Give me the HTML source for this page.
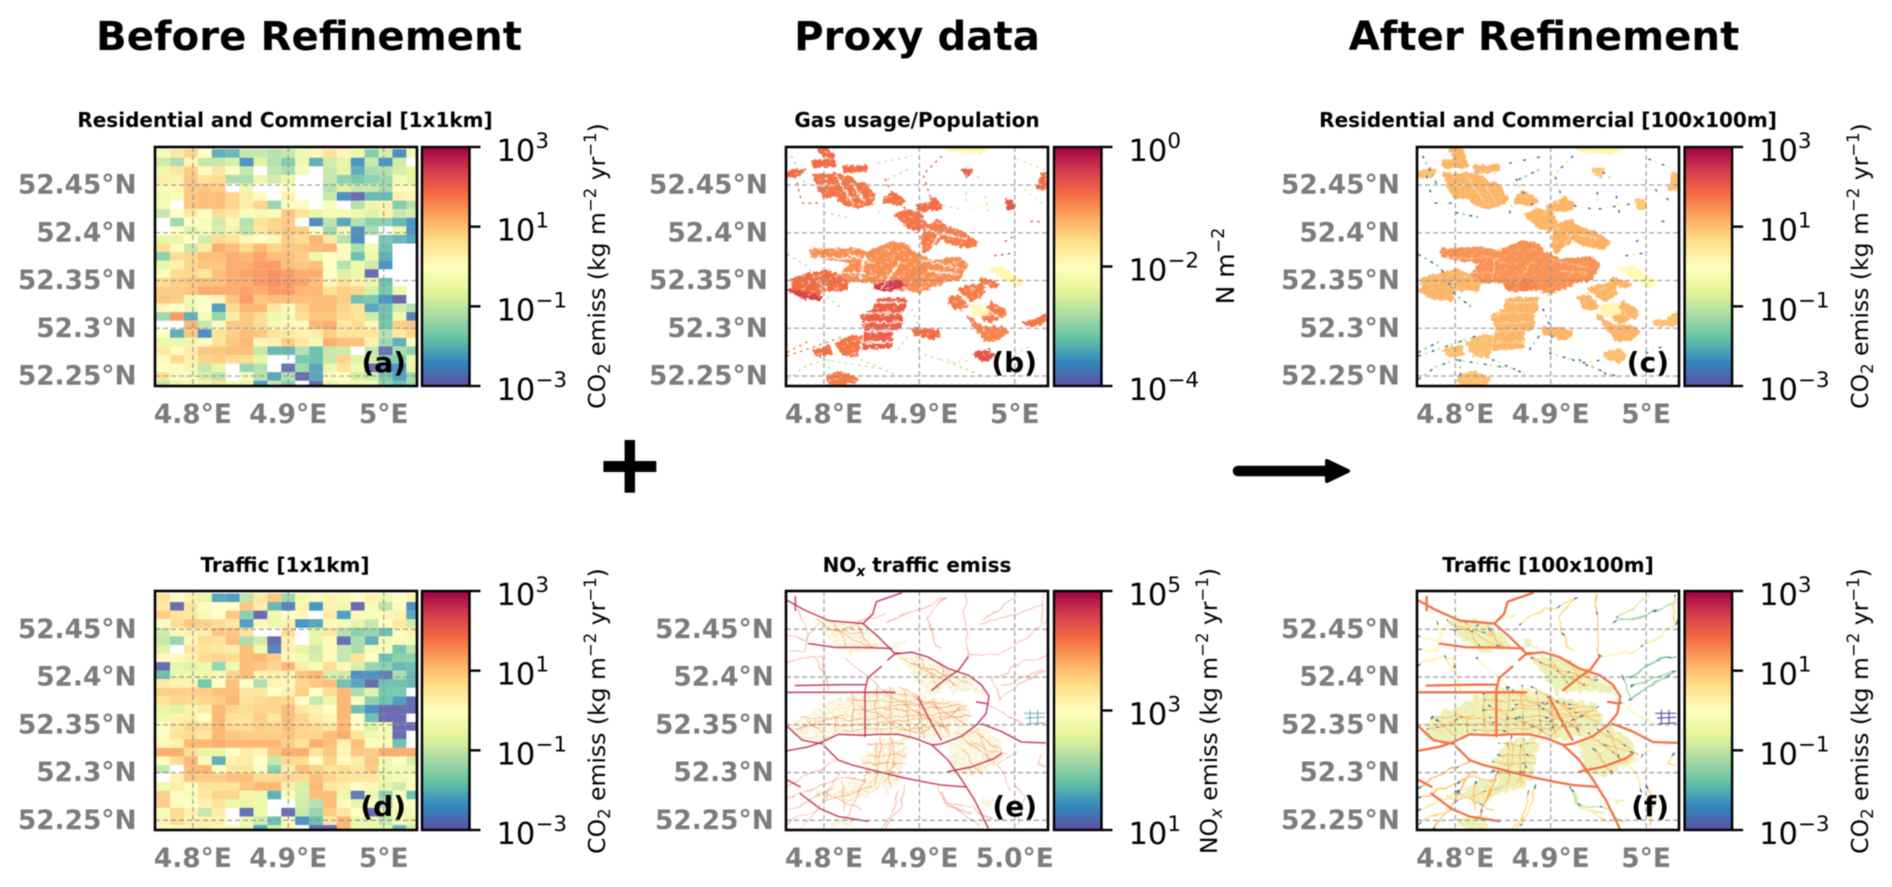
<!DOCTYPE html>
<html lang="en">
<head>
<meta charset="utf-8">
<title>CO2 emission refinement maps</title>
<style>
html,body{margin:0;padding:0;background:#fff;}
#figure{display:block;width:1892px;height:887px;filter:blur(0.45px);font-family:"DejaVu Sans","Liberation Sans",sans-serif;}
.sup{font-weight:700;font-size:40.3px;fill:#000;text-anchor:middle;}
.ttl{font-weight:700;font-size:20px;fill:#000;text-anchor:middle;}
.cbl{font-size:23.5px;fill:#000;text-anchor:middle;}
.let{font-weight:700;font-size:28px;fill:#000;text-anchor:end;}
</style>
</head>
<body>
<svg id="figure" xmlns="http://www.w3.org/2000/svg" width="1892" height="887" viewBox="0 0 1892 887">
  <defs id="defs">
    <filter id="roughEdge" x="-5%" y="-5%" width="110%" height="110%">
      <feTurbulence type="fractalNoise" baseFrequency="0.28" numOctaves="2" seed="4" result="noise"/>
      <feDisplacementMap in="SourceGraphic" in2="noise" scale="6" xChannelSelector="R" yChannelSelector="G"/>
    </filter>
    <filter id="softZone" x="-5%" y="-5%" width="110%" height="110%">
      <feTurbulence type="fractalNoise" baseFrequency="0.12" numOctaves="3" seed="9" result="noise"/>
      <feDisplacementMap in="SourceGraphic" in2="noise" scale="14" xChannelSelector="R" yChannelSelector="G"/>
    </filter>
    <filter id="wiggle" x="-5%" y="-5%" width="110%" height="110%">
      <feTurbulence type="fractalNoise" baseFrequency="0.07" numOctaves="2" seed="2" result="noise"/>
      <feDisplacementMap in="SourceGraphic" in2="noise" scale="7" xChannelSelector="R" yChannelSelector="G"/>
    </filter>
  </defs>
  <rect x="0" y="0" width="1892" height="887" fill="#fff"/>
  <g id="panels"></g>

  <text class="sup" x="309" y="50">Before Refinement</text>
  <text class="sup" x="917" y="50">Proxy data</text>
  <text class="sup" x="1544" y="50">After Refinement</text>

  <text class="ttl" x="285" y="127">Residential and Commercial [1x1km]</text>
  <text class="ttl" x="917" y="127">Gas usage/Population</text>
  <text class="ttl" x="1548" y="127">Residential and Commercial [100x100m]</text>
  <text class="ttl" x="285" y="572">Traffic [1x1km]</text>
  <text class="ttl" x="917" y="572">NO<tspan dy="4" font-size="14" font-style="italic">x</tspan><tspan dy="-4"> traffic emiss</tspan></text>
  <text class="ttl" x="1548" y="572">Traffic [100x100m]</text>

  <text class="let" x="406" y="372">(a)</text>
  <text class="let" x="1037" y="372">(b)</text>
  <text class="let" x="1669" y="372">(c)</text>
  <text class="let" x="406" y="816">(d)</text>
  <text class="let" x="1037" y="816">(e)</text>
  <text class="let" x="1669" y="816">(f)</text>

  <text class="cbl" transform="translate(605,266) rotate(-90)">CO<tspan dy="5" font-size="16.5">2</tspan><tspan dy="-5"> emiss (kg m</tspan><tspan dy="-9" font-size="16.5">−2</tspan><tspan dy="9"> yr</tspan><tspan dy="-9" font-size="16.5">−1</tspan><tspan dy="9">)</tspan></text>
  <text class="cbl" style="font-size:25px" transform="translate(1234,266) rotate(-90)">N m<tspan dy="-10" font-size="17.5">−2</tspan></text>
  <text class="cbl" transform="translate(1868,266) rotate(-90)">CO<tspan dy="5" font-size="16.5">2</tspan><tspan dy="-5"> emiss (kg m</tspan><tspan dy="-9" font-size="16.5">−2</tspan><tspan dy="9"> yr</tspan><tspan dy="-9" font-size="16.5">−1</tspan><tspan dy="9">)</tspan></text>
  <text class="cbl" transform="translate(605,711) rotate(-90)">CO<tspan dy="5" font-size="16.5">2</tspan><tspan dy="-5"> emiss (kg m</tspan><tspan dy="-9" font-size="16.5">−2</tspan><tspan dy="9"> yr</tspan><tspan dy="-9" font-size="16.5">−1</tspan><tspan dy="9">)</tspan></text>
  <text class="cbl" transform="translate(1217,711) rotate(-90)">NO<tspan dy="5" font-size="16.5" font-style="italic">x</tspan><tspan dy="-5"> emiss (kg m</tspan><tspan dy="-9" font-size="16.5">−2</tspan><tspan dy="9"> yr</tspan><tspan dy="-9" font-size="16.5">−1</tspan><tspan dy="9">)</tspan></text>
  <text class="cbl" transform="translate(1868,711) rotate(-90)">CO<tspan dy="5" font-size="16.5">2</tspan><tspan dy="-5"> emiss (kg m</tspan><tspan dy="-9" font-size="16.5">−2</tspan><tspan dy="9"> yr</tspan><tspan dy="-9" font-size="16.5">−1</tspan><tspan dy="9">)</tspan></text>

  <g>
    <rect x="624.6" y="440" width="10.4" height="52.7" fill="#000"/>
    <rect x="603.4" y="461" width="52.9" height="11" fill="#000"/>
  </g>
  <g>
    <line x1="1238" y1="471" x2="1334" y2="471" stroke="#000" stroke-width="10.5" stroke-linecap="round"/>
    <path d="M1327 461 L1348 471 L1327 481 Z" fill="#000" stroke="#000" stroke-width="4" stroke-linejoin="round"/>
  </g>
</svg>

<script>
/* ---------- chart data ---------- */
const latTicks = [52.45, 52.4, 52.35, 52.3, 52.25];
const latLabels = ["52.45°N", "52.4°N", "52.35°N", "52.3°N", "52.25°N"];
const lonTicks = [4.8, 4.9, 5.0];
const lonLabels = ["4.8°E", "4.9°E", "5°E"];
const lonLabelsE = ["4.8°E", "4.9°E", "5.0°E"];

const co2Exponents = [3, 1, -1, -3];
const gasExponents = [0, -2, -4];
const noxExponents = [5, 3, 1];

/* log10 of residential + commercial CO2 emission, 1 km cells, north to south */
const residentialGrid = [
[-0.3,0.5,0.8,0.0,-2.1,-2.0,-1.0,-1.0,-1.2,-1.0,-0.4,0.2,0.6,0.2,-0.5,-1.7,-0.8,-2.5,-0.3],
[-0.9,-1.3,0.2,-1.0,-1.0,-0.8,-2.4,-0.7,-1.2,-1.7,-0.4,-2.1,-0.9,-0.6,-2.4,-1.0,-2.4,-0.9,null],
[-0.5,0.5,0.9,0.1,0.5,-0.1,-1.0,null,-1.1,-1.3,-0.3,null,-1.0,-0.6,-2.1,-1.3,-1.2,-0.8,-0.6],
[0.4,0.3,1.0,0.6,0.7,-1.3,-1.3,-0.5,-0.9,-0.5,null,null,-1.0,-1.6,-1.8,-1.6,-1.4,-0.3,-0.6],
[-0.2,0.2,1.0,1.0,0.9,null,-0.5,null,null,0.0,null,null,-1.2,-0.7,-1.0,-1.0,-1.3,0.1,0.1],
[-0.4,-0.2,1.0,1.1,1.1,0.8,0.4,0.1,null,0.3,null,null,-1.0,-2.5,-2.9,-2.0,-2.0,0.3,0.2],
[-0.3,null,1.0,1.1,1.1,0.8,0.4,0.8,-1.5,0.1,-0.1,null,-0.2,null,-1.2,-0.5,0.3,-1.7,-1.2],
[-1.0,0.0,0.5,0.0,0.7,0.5,-0.2,-0.3,0.1,1.0,0.6,-0.6,-0.3,-0.3,-0.5,-0.7,0.3,-1.0,-0.8],
[null,-1.4,0.0,-0.2,-0.9,0.2,-1.2,0.6,0.8,0.9,null,-2.5,-1.1,-2.2,-1.2,-1.6,-1.6,-2.0,-2.4],
[null,0.0,-0.7,-0.2,-0.8,-0.5,-1.1,0.5,0.8,1.0,0.9,0.0,-1.4,-0.3,-2.5,-1.3,null,-0.5,-2.4],
[-0.6,-0.6,0.0,-0.9,0.7,0.6,0.2,0.0,-0.2,0.9,0.7,1.2,0.5,-1.2,-2.5,null,-1.8,-2.0,-2.2],
[0.7,0.1,-1.0,0.4,1.3,1.1,0.7,1.2,0.8,1.0,1.0,1.1,1.2,0.1,-1.3,-0.3,-1.9,null,null],
[-1.6,0.7,0.8,1.1,1.1,1.3,1.2,1.4,1.1,1.1,0.9,-0.5,0.0,-0.2,-1.9,-0.5,-2.1,null,null],
[-0.6,0.3,0.8,1.0,1.0,1.3,1.3,1.5,1.5,1.1,1.0,1.1,0.0,-1.2,-0.5,-0.9,-2.4,null,null],
[-0.2,0.7,0.8,0.5,1.1,1.3,1.4,1.5,1.6,1.5,1.3,1.3,0.0,-0.7,-0.5,-2.9,null,null,null],
[0.7,0.9,1.0,1.1,1.1,1.3,1.3,1.5,1.6,1.5,1.4,1.1,0.2,0.6,0.3,-0.5,-1.9,null,null],
[0.9,0.9,1.0,1.3,1.3,1.3,1.4,1.3,1.5,1.5,1.2,1.2,0.6,0.9,0.8,-0.8,-1.8,-0.5,null],
[1.0,0.9,-0.3,-0.1,0.2,1.0,1.5,1.0,1.1,1.1,1.1,1.1,1.1,0.9,-1.9,-1.8,-2.4,-2.9,null],
[0.2,0.0,-0.4,0.0,-2.3,0.7,1.2,1.2,0.5,0.2,0.8,1.1,1.1,0.8,0.6,-2.2,-1.9,-0.9,-1.2],
[-1.4,1.5,-2.1,-0.3,-1.5,0.4,1.0,0.7,-0.4,-0.3,0.7,1.0,1.0,0.7,0.6,-0.9,-1.9,-0.5,-2.7],
[null,null,1.2,-1.0,0.1,1.0,1.0,0.7,-0.3,0.2,0.1,1.2,1.3,0.5,0.7,0.2,-1.8,0.9,1.0],
[0.0,-2.1,1.0,-2.5,0.6,0.9,1.1,1.0,0.6,0.5,0.3,0.4,0.9,0.6,0.6,0.6,-1.2,0.5,0.8],
[-0.5,-0.5,-0.4,0.1,0.6,1.0,1.2,0.2,0.3,0.9,0.5,-0.3,1.3,1.1,1.1,0.3,-1.4,-2.1,-0.1],
[0.5,0.1,0.4,1.0,1.0,1.1,1.1,-1.0,-2.0,-2.0,-1.2,-1.9,-1.0,-0.9,null,-1.0,-2.8,-1.3,-1.6],
[0.1,0.7,0.3,0.8,0.9,0.7,0.7,-0.6,null,null,-1.8,-1.9,-1.0,0.8,-0.7,-0.9,-1.7,-1.7,-0.5],
[0.0,-0.1,-0.4,-1.0,-0.6,null,-1.5,-1.2,null,-2.8,-1.4,-2.2,-0.5,0.6,-0.4,-2.9,-2.8,-2.4,-0.6],
[0.6,-0.1,-0.2,-0.8,-1.1,null,-0.2,-1.2,-2.2,-1.2,-2.9,-2.2,0.1,0.0,-0.8,-0.9,-1.8,-2.3,-1.4],
[-1.0,-0.5,-0.3,0.3,0.6,-0.3,-0.5,-2.3,-1.0,-1.6,null,-2.9,-0.5,-0.2,-0.3,-0.3,-1.6,-1.9,-1.4]
];

/* log10 of traffic CO2 emission, 1 km cells, north to south */
const trafficGrid = [
[0.6,-0.1,0.3,-0.6,-2.2,-2.3,-1.1,0.5,1.0,-1.4,-0.4,-0.2,0.3,-0.3,0.0,0.3,-0.4,0.0,0.3],
[0.5,-2.9,0.5,0.1,0.0,0.0,1.0,0.4,-2.0,-2.6,0.3,-2.4,0.3,-0.4,-2.9,-0.2,-1.1,0.1,-2.5],
[0.9,0.6,0.5,-0.3,0.0,1.0,-1.6,-2.9,-0.5,0.0,0.1,null,0.4,-2.3,0.2,-0.2,0.2,0.3,-2.2],
[-0.1,0.7,1.0,0.9,0.7,0.5,-2.3,0.2,-0.5,0.3,-2.4,-2.2,-0.2,-0.3,-0.6,-1.0,0.0,0.5,-0.9],
[-0.9,0.2,0.3,0.4,1.0,1.0,0.6,null,null,0.7,null,-0.6,0.5,-1.2,-1.6,-1.5,-1.9,0.1,0.3],
[-1.0,-1.5,0.2,0.7,0.6,1.1,-1.3,-0.9,-2.9,0.3,null,-0.6,0.1,-2.8,-1.3,-2.1,-0.2,-0.2,-0.2],
[-0.7,null,0.5,0.6,0.5,0.4,1.1,-0.4,-2.6,0.3,-0.6,-0.9,0.1,-1.0,-1.3,-0.3,-0.2,-1.8,-1.1],
[0.1,0.1,0.3,0.7,0.8,0.7,1.1,1.2,0.9,0.2,-0.3,-0.8,0.1,-1.0,0.6,0.0,-1.9,-1.6,-1.6],
[-2.9,-0.6,-0.7,-0.5,-1.5,-0.4,1.1,1.0,0.8,1.2,0.4,-0.2,0.7,0.2,-0.8,-1.5,-1.6,-2.0,-1.9],
[-1.9,-0.5,-0.4,-0.5,-0.3,0.8,1.1,0.3,0.4,0.3,1.0,1.2,-0.8,-0.9,-2.5,-2.4,-2.7,-1.3,-2.0],
[0.4,0.3,0.3,-1.8,0.0,1.1,0.0,-1.3,0.3,0.2,0.8,1.0,1.1,-1.9,-2.2,-2.9,-1.9,-1.9,-2.0],
[0.9,0.9,0.9,0.9,1.1,1.1,0.5,0.5,0.0,0.3,0.9,0.0,0.7,1.2,-1.3,-0.7,-1.8,-1.8,null],
[0.6,0.8,0.7,0.8,0.9,1.2,0.6,0.7,0.8,0.8,0.0,-1.0,-0.5,1.2,-0.2,-1.6,-1.9,-2.3,-2.9],
[-0.6,-0.7,0.3,0.4,1.2,0.8,0.7,0.8,0.8,1.1,0.5,0.3,0.0,1.2,-1.9,-2.5,-2.9,-2.9,-2.9],
[-0.4,0.3,0.4,0.0,1.2,0.6,0.6,0.9,0.5,1.1,0.8,0.4,0.2,1.2,0.0,-1.9,-2.9,-2.9,null],
[0.1,0.5,0.8,0.7,1.2,0.7,0.7,0.9,0.8,1.1,0.8,0.7,0.5,1.2,0.0,-0.7,-0.3,-2.9,-2.9],
[-0.1,0.6,0.7,0.5,1.2,1.0,0.9,0.9,0.9,1.0,0.8,0.8,1.1,1.3,0.6,-0.4,-0.3,-2.9,null],
[0.2,0.3,1.2,1.2,1.3,1.2,1.2,1.2,1.2,0.9,0.6,1.3,1.1,0.3,1.1,-0.1,0.1,-1.9,null],
[1.3,1.3,0.7,-0.6,-0.6,0.0,0.4,0.2,1.0,1.3,1.3,0.6,1.0,0.2,1.0,0.9,1.3,1.3,1.3],
[0.1,0.7,1.2,-0.2,-2.1,0.3,0.4,0.0,-1.0,0.7,0.7,0.0,0.8,0.1,0.4,1.0,-0.4,0.0,-0.8],
[-1.0,null,1.1,1.2,0.1,0.5,0.6,-0.1,-1.6,0.4,1.1,0.9,0.6,0.7,0.5,0.9,-0.4,-0.3,-0.4],
[null,0.3,1.0,0.9,0.9,1.1,1.1,0.7,0.7,0.8,0.7,1.1,0.8,0.6,0.6,0.5,-0.5,-0.3,-0.2],
[-0.4,0.4,0.1,0.6,0.6,0.6,1.0,1.2,1.2,0.4,-0.8,1.2,0.5,0.4,-0.1,0.2,-0.6,-0.9,0.1],
[0.9,-0.1,-0.2,0.5,0.8,0.8,0.3,-0.4,-2.1,0.1,-0.8,1.1,1.1,-0.5,-2.7,-0.5,-1.6,-0.2,-1.9],
[0.9,-0.1,0.0,0.3,0.6,-0.5,-0.6,-0.5,null,null,-0.9,-1.2,1.1,0.1,-0.6,-0.2,-1.3,-0.1,-0.1],
[-0.2,0.7,0.3,-1.0,0.4,null,-2.8,-0.4,null,-2.9,-1.0,-1.5,0.9,0.5,0.0,-2.9,-0.3,-0.4,-0.2],
[0.2,0.7,0.3,0.3,0.3,null,-0.4,-0.9,-1.9,0.1,-2.4,-1.9,0.5,1.2,-0.5,-0.5,-1.0,-0.3,-0.6],
[0.1,0.1,0.2,0.4,0.2,0.2,-0.5,-2.2,-0.8,0.2,null,-2.9,-2.9,1.2,-0.4,-0.5,-0.5,-2.0,-0.8]
];

/* urban footprints as [lon, lat] rings */
const urbanPatches = [
[[4.787,52.475],[4.810,52.477],[4.812,52.470],[4.789,52.469]],
[[4.794,52.488],[4.805,52.488],[4.810,52.479],[4.800,52.480]],
[[4.820,52.469],[4.845,52.470],[4.845,52.466],[4.822,52.463]],
[[4.762,52.463],[4.773,52.466],[4.779,52.466],[4.775,52.460],[4.762,52.459]],
[[4.789,52.461],[4.812,52.461],[4.829,52.458],[4.834,52.452],[4.843,52.451],[4.853,52.438],[4.851,52.431],[4.834,52.426],[4.822,52.430],[4.812,52.438],[4.800,52.437],[4.794,52.447]],
[[4.864,52.437],[4.871,52.442],[4.880,52.438],[4.885,52.433],[4.878,52.430],[4.864,52.431]],
[[4.897,52.428],[4.909,52.431],[4.914,52.437],[4.923,52.430],[4.921,52.425],[4.899,52.423]],
[[4.874,52.419],[4.888,52.424],[4.902,52.419],[4.906,52.409],[4.899,52.402],[4.888,52.406]],
[[4.906,52.407],[4.920,52.413],[4.930,52.405],[4.948,52.399],[4.961,52.390],[4.955,52.384],[4.934,52.388],[4.923,52.393],[4.913,52.386],[4.906,52.379],[4.902,52.390]],
[[4.786,52.382],[4.836,52.383],[4.843,52.379],[4.871,52.390],[4.885,52.388],[4.894,52.379],[4.913,52.370],[4.941,52.374],[4.950,52.367],[4.942,52.351],[4.930,52.350],[4.899,52.337],[4.888,52.341],[4.871,52.341],[4.853,52.342],[4.852,52.349],[4.825,52.349],[4.818,52.357],[4.829,52.369],[4.801,52.373],[4.787,52.376]],
[[4.766,52.351],[4.784,52.357],[4.801,52.360],[4.813,52.357],[4.824,52.348],[4.824,52.341],[4.798,52.340],[4.794,52.332],[4.780,52.331],[4.766,52.341]],
[[4.762,52.340],[4.780,52.337],[4.798,52.332],[4.794,52.330],[4.777,52.332]],
[[4.853,52.345],[4.878,52.350],[4.886,52.345],[4.871,52.340],[4.855,52.340]],
[[4.855,52.330],[4.885,52.331],[4.885,52.320],[4.881,52.316],[4.881,52.302],[4.871,52.297],[4.871,52.281],[4.841,52.278],[4.843,52.302],[4.839,52.313],[4.853,52.320]],
[[4.930,52.332],[4.941,52.334],[4.950,52.323],[4.942,52.320],[4.934,52.323]],
[[4.941,52.341],[4.948,52.344],[4.965,52.346],[4.969,52.337],[4.955,52.329]],
[[4.965,52.353],[4.983,52.346],[4.979,52.343],[4.965,52.348]],
[[4.976,52.327],[4.990,52.318],[4.990,52.313],[4.972,52.306],[4.965,52.313]],
[[4.950,52.313],[4.965,52.302],[4.986,52.301],[4.993,52.297],[4.983,52.288],[4.969,52.288],[4.960,52.299]],
[[4.892,52.300],[4.920,52.298],[4.921,52.292],[4.913,52.289],[4.894,52.294]],
[[4.789,52.277],[4.805,52.281],[4.808,52.273],[4.794,52.271]],
[[4.813,52.285],[4.829,52.292],[4.839,52.291],[4.834,52.271],[4.820,52.272]],
[[4.957,52.273],[4.972,52.277],[4.978,52.271],[4.972,52.265],[4.962,52.268]],
[[4.803,52.250],[4.820,52.254],[4.836,52.247],[4.829,52.242],[4.805,52.242]],
[[5.028,52.461],[5.032,52.461],[5.032,52.445],[5.024,52.447]],
[[5.009,52.306],[5.021,52.308],[5.032,52.315],[5.032,52.306],[5.017,52.302]],
[[4.990,52.435],[4.998,52.433],[5.000,52.426],[4.993,52.425]],
[[4.944,52.466],[4.955,52.466],[4.951,52.459]],
[[4.928,52.488],[4.972,52.488],[4.965,52.484],[4.937,52.486]],
[[4.974,52.362],[4.986,52.364],[5.010,52.348],[5.003,52.344],[4.986,52.353]],
[[4.953,52.323],[4.969,52.325],[4.972,52.316],[4.958,52.313]]
];
/* log10 value of each footprint, same order as urbanPatches */
const gasPatchValues = [-0.8,-0.8,-0.8,-0.8,-0.85,-0.85,-0.8,-0.85,-0.9,-1.0,-0.8,-0.45,-0.4,-0.7,-0.9,-0.9,-0.9,-0.9,-0.95,-0.8,-0.8,-0.85,-0.6,-0.9,-0.8,-0.85,-0.6,-0.7,-1.9,-1.9,-1.9];
const residentialPatchValues = [1.1,1.1,1.1,1.0,1.1,1.1,1.1,1.1,1.15,1.45,1.1,1.1,1.6,1.1,1.1,1.1,1.1,1.1,1.1,1.1,1.0,1.0,1.0,1.0,1.0,1.0,0.9,0.9,0.2,0.1,0.2];

/* unbuilt cuts (canals, parks, lanes) through the footprints */
const openSpaceCuts = [
[[4.812,52.461],[4.831,52.430]],
[[4.829,52.452],[4.843,52.431]],
[[4.794,52.450],[4.812,52.450]],
[[4.843,52.377],[4.838,52.351]],
[[4.787,52.374],[4.829,52.373]],
[[4.818,52.358],[4.843,52.358]],
[[4.880,52.370],[4.860,52.341]],
[[4.899,52.372],[4.941,52.363]],
[[4.909,52.360],[4.941,52.357]],
[[4.794,52.351],[4.803,52.341]],
[[4.841,52.327],[4.885,52.327]],
[[4.841,52.316],[4.885,52.316]],
[[4.841,52.306],[4.881,52.306]],
[[4.841,52.297],[4.875,52.297]],
[[4.841,52.285],[4.875,52.285]],
[[4.913,52.386],[4.923,52.400],[4.948,52.394]],
[[4.906,52.405],[4.920,52.398]],
[[4.854,52.368],[4.826,52.377]],
[[4.965,52.325],[4.990,52.306]]
];

/* sparse settlements and ribbon development along lanes */
const feederLines = [
[[4.770,52.459],[4.775,52.438],[4.778,52.431],[4.798,52.431]],
[[4.857,52.421],[4.859,52.428]],
[[4.864,52.456],[4.870,52.444],[4.880,52.430],[4.887,52.424]],
[[4.923,52.480],[4.904,52.461],[4.909,52.445],[4.913,52.433]],
[[4.925,52.428],[4.944,52.425]],
[[4.867,52.456],[4.892,52.468]],
[[4.951,52.425],[4.990,52.431]],
[[4.949,52.442],[4.949,52.428]],
[[4.762,52.377],[4.784,52.364],[4.799,52.337]],
[[4.798,52.337],[4.817,52.322]],
[[4.762,52.271],[4.822,52.292]],
[[4.762,52.275],[4.787,52.288]],
[[4.892,52.320],[4.902,52.295],[4.899,52.278]],
[[4.878,52.278],[4.890,52.295]],
[[4.930,52.267],[4.962,52.250]],
[[4.979,52.376],[5.000,52.379]],
[[5.017,52.412],[5.030,52.411]],
[[4.801,52.421],[4.825,52.416]],
[[5.003,52.477],[5.031,52.466]],
[[4.857,52.473],[4.892,52.480]],
[[4.801,52.267],[4.864,52.257]],
[[4.766,52.480],[4.780,52.452]],
[[4.955,52.463],[4.965,52.456]],
[[4.990,52.391],[5.000,52.397]],
[[4.923,52.267],[4.976,52.247]],
[[4.762,52.247],[4.780,52.260],[4.801,52.267]],
[[4.969,52.438],[4.972,52.421]],
[[4.805,52.267],[4.805,52.247]],
[[4.934,52.264],[4.955,52.267]],
[[5.000,52.274],[5.017,52.281]],
[[4.899,52.274],[4.923,52.267]],
[[4.839,52.267],[4.878,52.250]],
[[5.010,52.445],[5.028,52.431]]
];
const gasFeederValues = [-0.7,-2.6,-0.7,-0.7,-2.6,-2.7,-2.2,-2.7,-2.8,-2.7,-0.9,-0.9,-2.7,-2.7,-2.6,-0.6,-0.6,-2.7,-2.5,-2.6,-2.6,-2.8,-2.7,-0.7,-2.6,-2.7,-2.6,-2.7,-2.5,-2.6,-2.7,-2.7,-2.5];
const residentialFeederValues = [-0.2,-1.4,0.7,0.5,0.0,-1.5,-0.1,-0.8,-1.6,-1.8,-1.0,-1.5,-1.3,-1.4,-0.6,-0.2,0.0,-1.5,-0.3,-0.2,-0.8,-1.5,-1.2,-0.4,-0.8,-1.2,-0.5,-1.4,-0.6,-0.5,-1.0,-0.7,-0.3];

/* built-up street zones used by the traffic maps */
const trafficZones = [
[[4.874,52.423],[4.909,52.421],[4.934,52.407],[4.962,52.390],[4.969,52.383],[4.934,52.386],[4.906,52.383],[4.899,52.393],[4.888,52.407]],
[[4.792,52.461],[4.839,52.456],[4.860,52.431],[4.829,52.425],[4.812,52.435],[4.798,52.449]],
[[4.766,52.351],[4.805,52.372],[4.836,52.386],[4.878,52.386],[4.906,52.379],[4.948,52.372],[4.955,52.351],[4.944,52.341],[4.916,52.334],[4.892,52.341],[4.815,52.341],[4.794,52.330],[4.766,52.341]],
[[4.857,52.334],[4.888,52.336],[4.885,52.316],[4.881,52.295],[4.867,52.281],[4.846,52.292],[4.839,52.313]],
[[4.930,52.334],[4.962,52.348],[4.983,52.337],[4.990,52.316],[4.976,52.306],[4.955,52.295],[4.934,52.302]],
[[4.805,52.278],[4.829,52.292],[4.864,52.292],[4.857,52.281],[4.822,52.267]],
[[4.965,52.274],[4.979,52.271],[4.969,52.264]],
[[4.871,52.438],[4.888,52.435],[4.878,52.431]],
[[4.803,52.250],[4.820,52.254],[4.836,52.247],[4.829,52.242],[4.805,52.242]],
[[4.789,52.277],[4.805,52.281],[4.808,52.273],[4.794,52.271]]
];

/* road network */
const majorRoads = [
[[4.762,52.480],[4.780,52.470],[4.805,52.459],[4.841,52.456],[4.857,52.442],[4.874,52.425],[4.880,52.425]],
[[4.841,52.456],[4.851,52.466],[4.855,52.479],[4.881,52.488]],
[[4.867,52.418],[4.874,52.424],[4.892,52.426],[4.909,52.421],[4.930,52.409],[4.951,52.402],[4.965,52.392],[4.973,52.380],[4.970,52.362],[4.960,52.350],[4.944,52.338],[4.923,52.330],[4.913,52.329],[4.895,52.336],[4.878,52.340],[4.857,52.340],[4.841,52.339],[4.815,52.340],[4.798,52.332],[4.784,52.327],[4.762,52.323]],
[[4.860,52.411],[4.846,52.399],[4.843,52.386],[4.843,52.338]],
[[4.762,52.384],[4.874,52.384]],
[[4.770,52.391],[4.818,52.392],[4.843,52.392]],
[[4.913,52.329],[4.930,52.313],[4.944,52.293],[4.958,52.271],[4.972,52.242]],
[[4.801,52.327],[4.815,52.313],[4.829,52.308],[4.857,52.301],[4.881,52.295],[4.906,52.290],[4.923,52.287],[4.948,52.285]],
[[4.762,52.348],[4.777,52.334],[4.798,52.330]],
[[4.965,52.351],[4.986,52.343],[5.007,52.332],[5.032,52.331]],
[[4.913,52.386],[4.930,52.400],[4.941,52.407],[4.951,52.421]],
[[4.930,52.301],[4.955,52.306],[4.979,52.315],[4.986,52.320]],
[[4.762,52.292],[4.775,52.285]],
[[4.775,52.278],[4.796,52.262],[4.815,52.254],[4.846,52.249]],
[[4.770,52.484],[4.770,52.470]],
[[4.871,52.430],[4.839,52.431],[4.812,52.431],[4.784,52.435]],
[[4.899,52.378],[4.913,52.351],[4.923,52.334]],
[[4.972,52.372],[4.960,52.374]]
];
const minorRoads = [
[[4.951,52.421],[4.949,52.438],[4.948,52.463],[4.948,52.486]],
[[4.927,52.484],[4.907,52.461],[4.913,52.445],[4.916,52.433],[4.923,52.430]],
[[4.951,52.423],[4.983,52.425],[5.010,52.438],[5.032,52.459]],
[[4.965,52.457],[5.003,52.466],[5.031,52.477]],
[[5.030,52.486],[5.028,52.458]],
[[4.867,52.456],[4.880,52.465],[4.906,52.473],[4.927,52.484]],
[[4.983,52.400],[5.010,52.418],[5.032,52.421]],
[[4.789,52.423],[4.803,52.400],[4.805,52.384]],
[[4.822,52.421],[4.860,52.386],[4.899,52.378]],
[[4.878,52.281],[4.871,52.254],[4.860,52.242]],
[[4.923,52.281],[4.930,52.264],[4.955,52.257]],
[[4.762,52.273],[4.818,52.295],[4.843,52.292]],
[[4.762,52.260],[4.812,52.285]],
[[4.777,52.242],[4.794,52.262],[4.805,52.281],[4.818,52.302]],
[[5.000,52.285],[5.010,52.274],[5.003,52.247]],
[[4.972,52.372],[5.010,52.350]],
[[4.762,52.428],[4.780,52.428],[4.784,52.445],[4.773,52.470]],
[[4.986,52.390],[5.030,52.407]],
[[4.930,52.267],[4.962,52.247]],
[[4.968,52.461],[4.983,52.470],[5.003,52.486]],
[[4.983,52.376],[5.003,52.390],[5.032,52.407]],
[[4.762,52.414],[4.770,52.418],[4.787,52.421],[4.798,52.421],[4.801,52.404]],
[[4.885,52.288],[4.878,52.260],[4.864,52.242]],
[[4.920,52.285],[4.927,52.267],[4.955,52.264],[4.976,52.250]],
[[4.996,52.281],[4.983,52.309],[5.003,52.323]],
[[5.028,52.320],[5.024,52.309],[5.032,52.306]],
[[4.762,52.247],[4.773,52.254],[4.794,52.260]],
[[4.762,52.285],[4.780,52.295],[4.801,52.306],[4.815,52.313]],
[[4.975,52.400],[4.986,52.376]],
[[4.762,52.442],[4.780,52.438],[4.794,52.456]],
[[4.822,52.452],[4.864,52.466]],
[[4.845,52.301],[4.834,52.274],[4.825,52.254]]
];
/* log10 CO2 along each minor road in the refined traffic map, same order as minorRoads */
const trafficMinorValues = [0.9,0.7,0.3,-1.3,0.7,0.6,-1.7,0.4,0.2,0.7,-0.7,0.9,0.4,1.0,0.8,0.2,0.2,-1.2,0.3,-0.8,-1.5,0.3,0.6,-1.0,0.3,0.6,0.7,1.0,-1.3,0.2,-0.3,1.2];
const cityStreets = [
[[4.775,52.358],[4.830,52.356],[4.900,52.360],[4.950,52.365]],
[[4.780,52.349],[4.850,52.351],[4.920,52.358],[4.955,52.360]],
[[4.830,52.376],[4.880,52.374],[4.930,52.372]],
[[4.830,52.366],[4.900,52.366],[4.945,52.370]],
[[4.820,52.344],[4.880,52.346],[4.930,52.348]],
[[4.812,52.341],[4.812,52.358]],
[[4.830,52.384],[4.830,52.345]],
[[4.855,52.390],[4.855,52.340]],
[[4.870,52.390],[4.870,52.340]],
[[4.885,52.385],[4.890,52.340]],
[[4.900,52.380],[4.905,52.335]],
[[4.915,52.375],[4.930,52.340]],
[[4.845,52.330],[4.885,52.330]],
[[4.845,52.318],[4.885,52.318]],
[[4.855,52.330],[4.855,52.285]],
[[4.868,52.330],[4.868,52.285]],
[[4.940,52.340],[4.980,52.310]],
[[4.955,52.330],[4.990,52.320]],
[[4.945,52.325],[4.965,52.300]],
[[4.790,52.460],[4.850,52.430]],
[[4.810,52.460],[4.825,52.430]],
[[4.835,52.452],[4.850,52.430]],
[[4.880,52.420],[4.940,52.390]],
[[4.900,52.420],[4.920,52.390]],
[[4.800,52.280],[4.840,52.260]],
[[4.820,52.290],[4.820,52.260]],
[[4.860,52.386],[4.930,52.345]],
[[4.880,52.390],[4.950,52.350]],
[[4.835,52.370],[4.900,52.340]],
[[4.780,52.355],[4.800,52.340]],
[[4.950,52.370],[4.900,52.340]],
[[4.770,52.345],[4.820,52.360]],
[[4.840,52.310],[4.885,52.310]],
[[4.840,52.300],[4.880,52.300]],
[[4.950,52.345],[4.985,52.325]],
[[4.960,52.345],[4.975,52.310]],
[[4.800,52.450],[4.840,52.445]],
[[4.890,52.415],[4.950,52.395]],
[[4.920,52.415],[4.935,52.390]],
[[4.800,52.270],[4.850,52.285]],
[[4.859,52.337],[4.859,52.310]],
[[4.871,52.337],[4.873,52.306],[4.864,52.289]],
[[4.864,52.369],[4.899,52.372]]
];
const isolatedRoads = [
[[5.010,52.362],[5.031,52.362]],
[[5.012,52.357],[5.031,52.358]],
[[5.013,52.351],[5.031,52.352]],
[[5.016,52.365],[5.016,52.351]],
[[5.024,52.365],[5.024,52.351]]
];
const noxRoadLevels = {major: 4.72, minor: 4.3, street: 4.0, isolated: 1.6};
const trafficRoadLevels = {major: 1.75, street: 1.0, isolated: -2.9};

/* ---------- colour scale ---------- */
const spectralStops = ["#5e4fa2","#3288bd","#66c2a5","#abdda4","#e6f598","#ffffbf","#fee08b","#fdae61","#f46d43","#d53e4f","#9e0142"];
function hexToRgb(h){return [parseInt(h.slice(1,3),16),parseInt(h.slice(3,5),16),parseInt(h.slice(5,7),16)];}
function spectral(t){
  const clamped=Math.max(0,Math.min(1,t));
  const p=clamped*(spectralStops.length-1);
  const i=Math.min(Math.floor(p),spectralStops.length-2);
  const f=p-i;
  const a=hexToRgb(spectralStops[i]),b=hexToRgb(spectralStops[i+1]);
  return "rgb("+a.map((c,k)=>Math.round(c+(b[k]-c)*f)).join(",")+")";
}
function colorOf(v,min,max){return spectral((v-min)/(max-min));}

/* ---------- svg helpers ---------- */
const NS="http://www.w3.org/2000/svg";
function svgEl(tag,attrs,parent){
  const el=document.createElementNS(NS,tag);
  for(const k in attrs){el.setAttribute(k,attrs[k]);}
  if(parent){parent.appendChild(el);}
  return el;
}
const defs=document.getElementById("defs");
const root=document.getElementById("panels");

/* shared gradient */
const grad=svgEl("linearGradient",{id:"spectralGrad",x1:0,y1:1,x2:0,y2:0},defs);
for(let i=0;i<=40;i++){svgEl("stop",{offset:(i/40),"stop-color":spectral(i/40)},grad);}

/* urban texture + street mesh patterns */
const speck=svgEl("pattern",{id:"speckle",width:17,height:13,patternUnits:"userSpaceOnUse"},defs);
svgEl("rect",{x:1,y:2,width:5,height:1.5,fill:"#fff","fill-opacity":0.75},speck);
svgEl("rect",{x:9,y:8,width:1.8,height:1.8,fill:"#fff","fill-opacity":0.85},speck);
svgEl("rect",{x:7,y:0,width:1.4,height:1.4,fill:"#fff","fill-opacity":0.6},speck);
svgEl("rect",{x:13,y:4,width:2.5,height:1.3,fill:"#fff","fill-opacity":0.7},speck);
svgEl("rect",{x:3,y:10,width:1.5,height:1.5,fill:"#fff","fill-opacity":0.7},speck);
const meshE=svgEl("pattern",{id:"meshE",width:5,height:4.5,patternUnits:"userSpaceOnUse",patternTransform:"rotate(-14)"},defs);
svgEl("path",{d:"M0 0H5M0 0V4.5",stroke:colorOf(3.8,1,5),"stroke-width":0.8,"stroke-opacity":0.6,fill:"none"},meshE);
const meshF=svgEl("pattern",{id:"meshF",width:4.5,height:4,patternUnits:"userSpaceOnUse",patternTransform:"rotate(-14)"},defs);
svgEl("path",{d:"M0 0H4.5M0 0V4",stroke:colorOf(0.8,-3,3),"stroke-width":1,"stroke-opacity":0.75,fill:"none"},meshF);

/* ---------- panel layout ---------- */
const BOX_W=262, BOX_H=239, LON_K=954, LAT_K=955, CB_W=47.5, TICK=11;
const panelLayouts=[
 {id:"a",kind:"grid",grid:residentialGrid,boxX:155,boxY:147,gx:192.9,gy:185,cbX:422,labelR:136.6,lonLab:lonLabels,exps:co2Exponents,min:-3,max:3,lonY:423},
 {id:"b",kind:"gas",boxX:786,boxY:147,gx:824,gy:185,cbX:1054,labelR:767.8,lonLab:lonLabels,exps:gasExponents,min:-4,max:0,lonY:423},
 {id:"c",kind:"res",boxX:1417,boxY:147,gx:1455.3,gy:185,cbX:1684.6,labelR:1399.8,lonLab:lonLabels,exps:co2Exponents,min:-3,max:3,lonY:423},
 {id:"d",kind:"grid",grid:trafficGrid,boxX:155,boxY:591,gx:192.9,gy:629.3,cbX:422,labelR:136.6,lonLab:lonLabels,exps:co2Exponents,min:-3,max:3,lonY:867},
 {id:"e",kind:"nox",boxX:786,boxY:591,gx:824,gy:629.3,cbX:1054,labelR:773.8,lonLab:lonLabelsE,exps:noxExponents,min:1,max:5,lonY:867},
 {id:"f",kind:"traffic",boxX:1417,boxY:591,gx:1455.3,gy:629.3,cbX:1684.6,labelR:1399.8,lonLab:lonLabels,exps:co2Exponents,min:-3,max:3,lonY:867}
];
const GRID_LON0=4.7615, GRID_DLON=0.01457, GRID_LAT0=52.4875, GRID_DLAT=0.00898;

function drawPanel(p){
  const xOf=lon=>p.gx+(lon-4.8)*LON_K;
  const yOf=lat=>p.gy+(52.45-lat)*LAT_K;
  const pathOf=pts=>pts.map((q,i)=>(i?"L":"M")+xOf(q[0]).toFixed(1)+" "+yOf(q[1]).toFixed(1)).join("");
  const color=v=>colorOf(v,p.min,p.max);

  const g=svgEl("g",{},root);
  
  

  const clip=svgEl("clipPath",{id:"clip-"+p.id},defs);
  svgEl("rect",{x:p.boxX,y:p.boxY,width:BOX_W,height:BOX_H},clip);
  const map=svgEl("g",{"clip-path":"url(#clip-"+p.id+")"},g);
  
  

  const line=(pts,stroke,width,opacity,dash,parent)=>{
    const el=svgEl("path",{d:pathOf(pts),fill:"none",stroke:stroke,"stroke-width":width,"stroke-opacity":opacity,"stroke-linecap":"round","stroke-linejoin":"round"},parent||map);
    if(dash){el.setAttribute("stroke-dasharray",dash);}
    
    
    return el;
  };

  if(p.kind==="grid"){
    p.grid.forEach((row,r)=>row.forEach((v,c)=>{
      if(v===null){return;}
      const x0=xOf(GRID_LON0+c*GRID_DLON), x1=xOf(GRID_LON0+(c+1)*GRID_DLON);
      const y0=yOf(GRID_LAT0-r*GRID_DLAT), y1=yOf(GRID_LAT0-(r+1)*GRID_DLAT);
      const cell=svgEl("rect",{x:x0.toFixed(2),y:y0.toFixed(2),width:(x1-x0).toFixed(2),height:(y1-y0).toFixed(2),fill:color(v),"fill-opacity":0.88},map);
      
      
    }));
  }

  if(p.kind==="gas"||p.kind==="res"){
    const isGas=p.kind==="gas";
    const patchVals=isGas?gasPatchValues:residentialPatchValues;
    const feedVals=isGas?gasFeederValues:residentialFeederValues;
    const rough=svgEl("g",{filter:"url(#roughEdge)"},map);
    
    
    urbanPatches.forEach((ring,i)=>{
      const patch=svgEl("path",{d:pathOf(ring)+"Z",fill:color(patchVals[i]),stroke:color(patchVals[i]),"stroke-width":isGas?2:3.5,"stroke-linejoin":"round"},rough);
      
      
      const tex=svgEl("path",{d:pathOf(ring)+"Z",fill:"url(#speckle)","fill-opacity":isGas?0.7:0.3},rough);
      
      
    });
    openSpaceCuts.forEach(pts=>{
      const cut=svgEl("path",{d:pathOf(pts),fill:"none",stroke:"#fff","stroke-width":isGas?1.7:1,"stroke-opacity":isGas?0.9:0.5},rough);
      
      
    });
    feederLines.forEach((pts,i)=>{
      line(pts,color(feedVals[i]),isGas?1.5:1.7,1,"1.3 5.5");
      if(!isGas){line(pts,colorOf(-2.7,-3,3),1.6,1,"1.4 13");}
    });
  }

  if(p.kind==="nox"||p.kind==="traffic"){
    const isF=p.kind==="traffic";
    const lv=isF?trafficRoadLevels:noxRoadLevels;
    const zones=svgEl("g",{filter:"url(#softZone)"},map);
    
    
    trafficZones.forEach(ring=>{
      const zone=svgEl("path",{d:pathOf(ring)+"Z",fill:color(isF?-0.7:2.6),"fill-opacity":isF?0.6:0.18},zones);
      
      
      const mesh=svgEl("path",{d:pathOf(ring)+"Z",fill:isF?"url(#meshF)":"url(#meshE)"},zones);
      
      
    });
    const streets=svgEl("g",{filter:"url(#wiggle)"},map);
    
    
    cityStreets.forEach(pts=>line(pts,color(lv.street),isF?1.3:0.9,isF?0.9:0.65,null,streets));
    minorRoads.forEach((pts,i)=>{
      line(pts,isF?color(trafficMinorValues[i]):color(lv.minor),isF?1.6:1,isF?1:0.45,null,streets);
    });
    if(isF){
      minorRoads.forEach(pts=>line(pts,colorOf(-2.6,-3,3),1.5,1,"2 41",streets));
      cityStreets.forEach(pts=>line(pts,colorOf(-2.6,-3,3),1.4,0.9,"1.8 27",streets));
    }
    majorRoads.forEach(pts=>line(pts,color(lv.major),isF?2.3:1.6,isF?1:0.85));
    isolatedRoads.forEach(pts=>line(pts,color(lv.isolated),1.2,isF?1:0.75));
  }

  /* gridlines */
  lonTicks.forEach(t=>{
    const x=xOf(t);
    const gl=svgEl("line",{x1:x,x2:x,y1:p.boxY,y2:p.boxY+BOX_H,stroke:"#8f8f8f","stroke-width":1.3,"stroke-opacity":0.8,"stroke-dasharray":"5 3"},map);
    
    
  });
  latTicks.forEach(t=>{
    const y=yOf(t);
    const gl=svgEl("line",{x1:p.boxX,x2:p.boxX+BOX_W,y1:y,y2:y,stroke:"#8f8f8f","stroke-width":1.3,"stroke-opacity":0.8,"stroke-dasharray":"5 3"},map);
    
    
  });

  /* frame */
  const frame=svgEl("rect",{x:p.boxX,y:p.boxY,width:BOX_W,height:BOX_H,fill:"none",stroke:"#000","stroke-width":2.6},g);
  
  

  /* axis labels */
  latTicks.forEach((t,i)=>{
    const lab=svgEl("text",{x:p.labelR,y:yOf(t)+8.5,"text-anchor":"end","font-size":26.4,"font-weight":700,fill:"#7c7c7c"},g);
    lab.textContent=latLabels[i];
    
    
  });
  lonTicks.forEach((t,i)=>{
    const lab=svgEl("text",{x:xOf(t),y:p.lonY,"text-anchor":"middle","font-size":26.4,"font-weight":700,fill:"#7c7c7c"},g);
    lab.textContent=p.lonLab[i];
    
    
  });

  /* colorbar */
  const cbar=svgEl("rect",{x:p.cbX,y:p.boxY,width:CB_W,height:BOX_H,fill:"url(#spectralGrad)",stroke:"#000","stroke-width":2.4},g);
  
  
  const cbY=e=>p.boxY+(p.max-e)/(p.max-p.min)*BOX_H;
  p.exps.forEach(e=>{
    const y=cbY(e);
    const tick=svgEl("line",{x1:p.cbX+CB_W,x2:p.cbX+CB_W+TICK,y1:y,y2:y,stroke:"#000","stroke-width":2.4},g);
    
    
    const lab=svgEl("text",{x:p.cbX+CB_W+TICK+16,y:y+14,"font-size":30.5,fill:"#000"},g);
    
    
    lab.appendChild(document.createTextNode("10"));
    const supEl=svgEl("tspan",{dy:-13,"font-size":21.5},lab);
    supEl.textContent=String(e).replace("-","\u2212");
  });
}
panelLayouts.forEach(drawPanel);
</script>
</body>
</html>
